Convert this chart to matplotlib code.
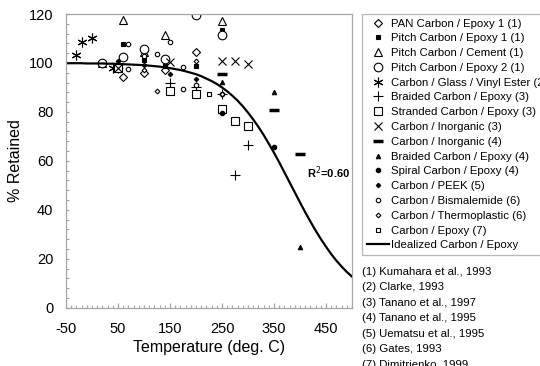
import matplotlib
matplotlib.use('Agg')
import matplotlib.pyplot as plt
from matplotlib.ticker import FixedLocator, MultipleLocator

plt.rcParams['font.family'] = ['Liberation Sans', 'DejaVu Sans']
plt.rcParams['axes.unicode_minus'] = False

# ---- data ----
pan_temp = [20, 60, 100, 140, 200]
pan_ret = [100, 94.4, 95.8, 97.2, 104.5]

pitch_ep1_temp = [20, 60, 100, 140, 200, 250]
pitch_ep1_ret = [100, 107.7, 101.2, 98.8, 98.8, 113.5]

pitch_cem_temp = [20, 60, 100, 140, 250]
pitch_cem_ret = [100, 117.6, 104.3, 111.4, 117.2]

pitch_ep2_temp = [20, 60, 100, 140, 200, 250]
pitch_ep2_ret = [100, 102.6, 105.6, 101.5, 119.5, 111.5]

cgve_temp = [-30, -20, 0, 40]
cgve_ret = [103.2, 108.4, 110.4, 98.1]

braided3_temp = [50, 150, 200, 250, 275, 300]
braided3_ret = [98, 92, 90.2, 87.5, 54.4, 66.3]

stranded3_temp = [50, 150, 200, 250, 275, 300]
stranded3_ret = [98, 88.5, 87.5, 81, 76.2, 74.2]

inorg3_temp = [50, 150, 250, 275, 300]
inorg3_ret = [98, 100.2, 100.6, 100.6, 99.5]

inorg4_temp = [250, 350, 400]
inorg4_ret = [95.4, 80.6, 62.6]

braided4_temp = [250, 350, 400]
braided4_ret = [92.2, 88.3, 25]

spiral4_temp = [250, 350]
spiral4_ret = [79.4, 65.6]

peek5_temp = [50, 100, 150, 200]
peek5_ret = [100.6, 99, 95.4, 93.3]

bism6_temp = [70, 70, 100, 125, 150, 175, 175, 200, 250]
bism6_ret = [107.7, 97.4, 103, 103.6, 108.6, 98.4, 89.5, 91.2, 87.5]

thermo6_temp = [100, 125, 200, 250]
thermo6_ret = [97.1, 88.5, 100.8, 87.5]

epoxy7_temp = [225]
epoxy7_ret = [87.5]

ideal_temp = [-50, -40, -30, -20, -10, 0, 10, 20, 30, 40, 50, 60, 70, 80, 90,
              100, 110, 120, 130, 140, 150, 160, 170, 180, 190, 200, 210, 220,
              230, 240, 250, 260, 270, 280, 290, 300, 310, 320, 330, 340, 350,
              360, 370, 380, 390, 400, 410, 420, 430, 440, 450, 460, 470, 480,
              490, 500]
ideal_ret = [99.9, 99.9, 99.9, 99.9, 99.8, 99.8, 99.8, 99.8, 99.7, 99.7, 99.6,
             99.5, 99.4, 99.3, 99.2, 99.1, 98.9, 98.7, 98.5, 98.2, 97.9, 97.5,
             97.1, 96.6, 96.0, 95.4, 94.6, 93.6, 92.6, 91.4, 90.0, 88.4, 86.6,
             84.6, 82.3, 79.7, 76.9, 73.9, 70.6, 67.0, 63.3, 59.4, 55.3, 51.2,
             47.1, 43.0, 39.0, 35.2, 31.5, 28.1, 24.9, 21.9, 19.2, 16.8, 14.6,
             12.7]

labels = [
    "PAN Carbon / Epoxy 1 (1)",
    "Pitch Carbon / Epoxy 1 (1)",
    "Pitch Carbon / Cement (1)",
    "Pitch Carbon / Epoxy 2 (1)",
    "Carbon / Glass / Vinyl Ester (2)",
    "Braided Carbon / Epoxy (3)",
    "Stranded Carbon / Epoxy (3)",
    "Carbon / Inorganic (3)",
    "Carbon / Inorganic (4)",
    "Braided Carbon / Epoxy (4)",
    "Spiral Carbon / Epoxy (4)",
    "Carbon / PEEK (5)",
    "Carbon / Bismalemide (6)",
    "Carbon / Thermoplastic (6)",
    "Carbon / Epoxy (7)",
    "Idealized Carbon / Epoxy",
]
references = [
    "(1) Kumahara et al., 1993",
    "(2) Clarke, 1993",
    "(3) Tanano et al., 1997",
    "(4) Tanano et al., 1995",
    "(5) Uematsu et al., 1995",
    "(6) Gates, 1993",
    "(7) Dimitrienko, 1999",
]
r2_text = "R$^2$=0.60"

# ---- figure ----
fig = plt.figure(figsize=(5.4, 3.66), dpi=100)
ax = fig.add_axes([0.1222, 0.1593, 0.5297, 0.8024])

W = 'white'
K = 'black'
series = [
    (pan_temp, pan_ret, dict(marker='D', ms=4.2, mfc=W, mec=K)),
    (pitch_ep1_temp, pitch_ep1_ret, dict(marker='s', ms=3.2, mfc=K, mec=K)),
    (pitch_cem_temp, pitch_cem_ret, dict(marker='^', ms=6.2, mfc=W, mec=K)),
    (pitch_ep2_temp, pitch_ep2_ret, dict(marker='o', ms=6.2, mfc=W, mec=K)),
    (cgve_temp, cgve_ret, dict(marker=(6, 2, 0), ms=7, mfc=K, mec=K)),
    (braided3_temp, braided3_ret, dict(marker='+', ms=6.5, mfc=K, mec=K)),
    (stranded3_temp, stranded3_ret, dict(marker='s', ms=5.8, mfc=W, mec=K)),
    (inorg3_temp, inorg3_ret, dict(marker='x', ms=5.8, mfc=K, mec=K)),
    (inorg4_temp, inorg4_ret, dict(marker='_', ms=6.5, mfc=K, mec=K, mew=2.5)),
    (braided4_temp, braided4_ret, dict(marker='^', ms=3.2, mfc=K, mec=K)),
    (spiral4_temp, spiral4_ret, dict(marker='o', ms=3.2, mfc=K, mec=K)),
    (peek5_temp, peek5_ret, dict(marker='D', ms=2.3, mfc=K, mec=K)),
    (bism6_temp, bism6_ret, dict(marker='o', ms=3.2, mfc=W, mec=K)),
    (thermo6_temp, thermo6_ret, dict(marker='D', ms=2.4, mfc=W, mec=K)),
    (epoxy7_temp, epoxy7_ret, dict(marker='s', ms=3.2, mfc=W, mec=K)),
]

handles = []
for (t, r, st), lab in zip(series, labels[:-1]):
    kw = dict(linestyle='none', mew=0.8)
    kw.update(st)
    h, = ax.plot(t, r, label=lab, **kw)
    handles.append(h)

hl, = ax.plot(ideal_temp, ideal_ret, color=K, lw=1.6, label=labels[-1])
handles.append(hl)

ax.text(455, 55, r2_text, fontsize=8, fontweight='bold', ha='center', va='center')

ax.set_xlim(-50, 500)
ax.set_ylim(0, 120)
ax.xaxis.set_major_locator(FixedLocator([-50, 50, 150, 250, 350, 450]))
ax.xaxis.set_minor_locator(MultipleLocator(10))
ax.yaxis.set_major_locator(MultipleLocator(20))
ax.yaxis.set_minor_locator(MultipleLocator(4))

grey = '#a6a6a6'
for s in ax.spines.values():
    s.set_color(grey)
    s.set_linewidth(0.9)
ax.tick_params(which='both', direction='in', color=grey, labelsize=10.5,
               labelcolor=K)
ax.tick_params(axis='x', which='major', length=3.5, width=0.9, pad=10)
ax.tick_params(axis='x', which='minor', length=2.2, width=0.8)
ax.tick_params(axis='y', which='major', length=2.5, width=0.9, pad=9)
ax.tick_params(axis='y', which='minor', length=2.5, width=0.8)

ax.set_xlabel("Temperature (deg. C)", fontsize=11.5, labelpad=3)
ax.set_ylabel("% Retained", fontsize=11.5, labelpad=4)

leg = fig.legend(handles=handles, labels=labels, loc='upper left',
                 bbox_to_anchor=(362 / 540, 1 - 14 / 366, 0.40, 0),
                 mode='expand',
                 bbox_transform=fig.transFigure, fontsize=8.2,
                 frameon=True, fancybox=False, edgecolor=grey,
                 borderpad=0.4, borderaxespad=0, handlelength=2.0,
                 handletextpad=0.15, labelspacing=0.42, numpoints=1)
leg.get_frame().set_linewidth(0.9)

for i, ref in enumerate(references):
    fig.text(362 / 540, 1 - (271.7 + i * 15.5) / 366, ref, fontsize=8.2,
             ha='left', va='center')

fig.savefig('out.png', dpi=100)
